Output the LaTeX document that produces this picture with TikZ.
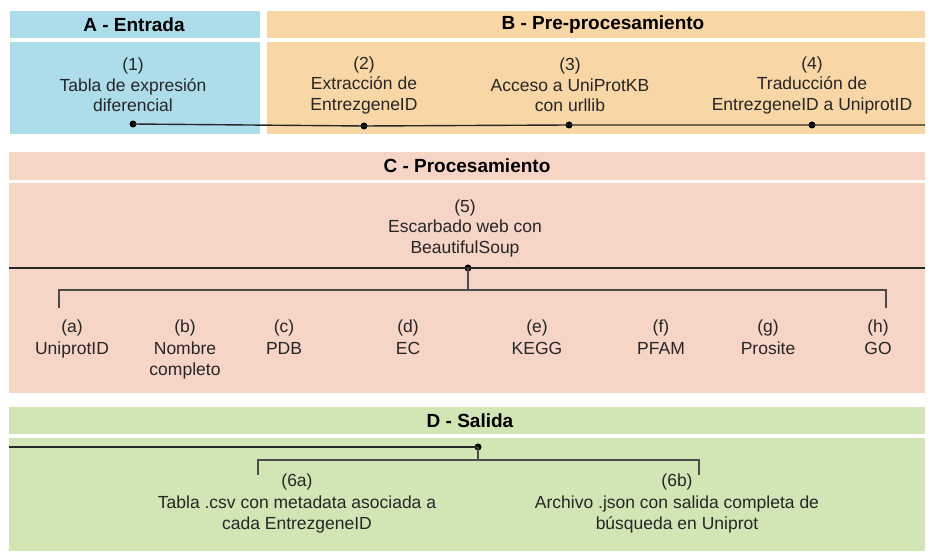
\documentclass[tikz,border=0pt]{standalone}
\usepackage{fontspec}
\setmainfont{Liberation Sans}
\definecolor{cA}{RGB}{173,220,234}
\definecolor{cB}{RGB}{248,214,166}
\definecolor{cC}{RGB}{246,212,198}
\definecolor{cD}{RGB}{210,229,181}
\definecolor{ln}{RGB}{40,40,40}
\begin{document}
\begin{tikzpicture}[x=1pt,y=-1pt,
  txt/.style={align=center,inner sep=0pt,font=\fontsize{17.5}{20.5}\selectfont,text=black!85},
  txtb/.style={align=center,inner sep=0pt,font=\fontsize{17.5}{21.5}\selectfont,text=black!85},
  hdr/.style={inner sep=0pt,font=\fontsize{19}{22}\selectfont\bfseries},
  dot/.style={circle,fill=black,inner sep=0pt,minimum size=7pt},
  tl/.style={draw=ln,line width=1.4pt},
  br/.style={draw=black!70,line width=1.6pt}]
\useasboundingbox (0,0) rectangle (930,553);
% backgrounds
\fill[cA] (10,11) rectangle (260,38);
\fill[cA] (10,42) rectangle (260,134);
\fill[cB] (267,11) rectangle (925,38);
\fill[cB] (267,42) rectangle (925,134);
\fill[cC] (9,152) rectangle (925,180);
\fill[cC] (9,183) rectangle (925,393);
\fill[cD] (9,407) rectangle (925,434);
\fill[cD] (9,438) rectangle (925,551);
% headers
\node[hdr] (hA) at (134,25) {A - Entrada};
\node[hdr] (hB) at (603,25) {B - Pre-procesamiento};
\node[hdr] (hC) at (467,166) {C - Procesamiento};
\node[hdr] (hD) at (470,421) {D - Salida};
% A/B steps
\node[txt] (s1) at (133,85) {(1)\\Tabla de expresión\\diferencial};
\node[txt] (s2) at (364,85) {(2)\\Extracción de\\EntrezgeneID};
\node[txt] (s3) at (570,85) {(3)\\Acceso a UniProtKB\\con urllib};
\node[txt] (s4) at (812,85) {(4)\\Traducción de\\EntrezgeneID a UniprotID};
\node[dot] (d1) at (133,124) {};
\node[dot] (d2) at (364,126) {};
\node[dot] (d3) at (569,125) {};
\node[dot] (d4) at (812,125) {};
\coordinate (eB) at (925,125);
\draw[tl] (d1.center) -- (d2.center) -- (d3.center) -- (d4.center) -- (eB);
% C
\node[txt] (s5) at (465,228) {(5)\\Escarbado web con\\BeautifulSoup};
\coordinate (cL) at (9,268);
\coordinate (cR) at (925,268);
\node[dot] (d5) at (468,268) {};
\draw[tl] (cL) -- (cR);
\coordinate (b5) at (468,290);
\coordinate (bl) at (59,290);
\coordinate (bt) at (59,308);
\coordinate (brr) at (886,290);
\coordinate (btr) at (886,308);
\draw[br] (d5.center) -- (b5);
\draw[br] (bt) -- (bl) -- (brr) -- (btr);
\node[txtb,anchor=north] (fa) at (72,320) {(a)\\UniprotID};
\node[txtb,anchor=north] (fb) at (185,320) {(b)\\Nombre\\completo};
\node[txtb,anchor=north] (fc) at (284,320) {(c)\\PDB};
\node[txtb,anchor=north] (fd) at (408,320) {(d)\\EC};
\node[txtb,anchor=north] (fe) at (537,320) {(e)\\KEGG};
\node[txtb,anchor=north] (ff) at (661,320) {(f)\\PFAM};
\node[txtb,anchor=north] (fg) at (768,320) {(g)\\Prosite};
\node[txtb,anchor=north] (fh) at (878,320) {(h)\\GO};
% D
\coordinate (dL) at (9,447);
\node[dot] (d6) at (478,447) {};
\draw[tl] (dL) -- (d6.center);
\coordinate (b6) at (478,460);
\coordinate (el) at (258,460);
\coordinate (etl) at (258,475);
\coordinate (er) at (699,460);
\coordinate (etr) at (699,475);
\draw[br] (d6.center) -- (b6);
\draw[br] (etl) -- (el) -- (er) -- (etr);
\node[txtb,anchor=north] (o1) at (297,474) {(6a)\\Tabla .csv con metadata asociada a\\cada EntrezgeneID};
\node[txtb,anchor=north] (o2) at (677,474) {(6b)\\Archivo .json con salida completa de\\búsqueda en Uniprot};
\end{tikzpicture}
\end{document}
